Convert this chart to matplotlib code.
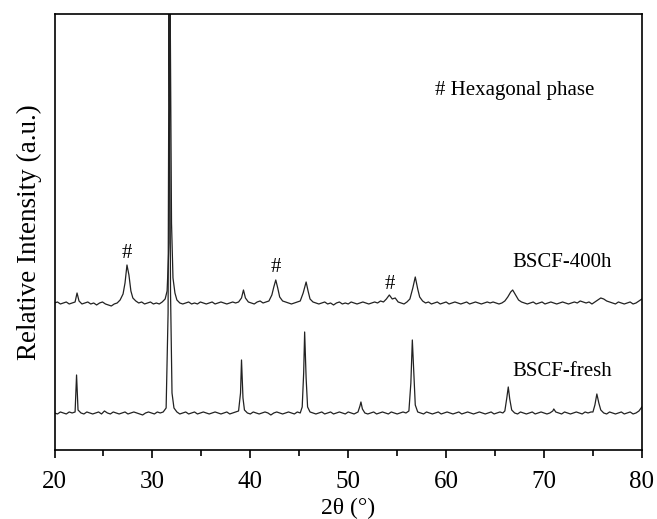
import matplotlib
matplotlib.use('Agg')
import matplotlib.pyplot as plt
from matplotlib.ticker import MultipleLocator

plt.rcParams['font.family'] = ['Liberation Serif', 'DejaVu Serif']

# BSCF-400h pattern, 2theta (deg) and intensity above its own baseline (a.u.)
aged_x = [20.0, 20.3, 20.6, 20.9, 21.2, 21.5, 21.8, 22.1, 22.3, 22.5, 22.8, 23.1, 23.4, 23.7,
          24.0, 24.3, 24.6, 24.9, 25.2, 25.5, 25.8, 26.1, 26.4, 26.7, 27.0, 27.2, 27.4, 27.6,
          27.8, 28.0, 28.3, 28.6, 28.9, 29.2, 29.5, 29.8, 30.1, 30.4, 30.7, 31.0, 31.3, 31.5,
          31.7, 31.8, 31.95, 32.1, 32.3, 32.5, 32.8, 33.1, 33.4, 33.7, 34.0, 34.3, 34.6, 34.9,
          35.2, 35.5, 35.8, 36.1, 36.4, 36.7, 37.0, 37.3, 37.6, 37.9, 38.2, 38.5, 38.8, 39.1,
          39.3, 39.5, 39.8, 40.1, 40.4, 40.7, 41.0, 41.3, 41.6, 41.9, 42.2, 42.4, 42.6, 42.8,
          43.0, 43.3, 43.6, 43.9, 44.2, 44.5, 44.8, 45.1, 45.4, 45.7, 45.9, 46.1, 46.4, 46.7,
          47.0, 47.3, 47.6, 47.9, 48.2, 48.5, 48.8, 49.1, 49.4, 49.7, 50.0, 50.3, 50.6, 50.9,
          51.2, 51.5, 51.8, 52.1, 52.4, 52.7, 53.0, 53.3, 53.6, 53.9, 54.2, 54.5, 54.8, 55.1,
          55.4, 55.7, 56.0, 56.3, 56.6, 56.85, 57.1, 57.3, 57.6, 57.9, 58.2, 58.5, 58.8, 59.1,
          59.4, 59.7, 60.0, 60.3, 60.6, 60.9, 61.2, 61.5, 61.8, 62.1, 62.4, 62.7, 63.0, 63.3,
          63.6, 63.9, 64.2, 64.5, 64.8, 65.1, 65.4, 65.7, 66.0, 66.3, 66.6, 66.8, 67.1, 67.4,
          67.7, 68.0, 68.3, 68.6, 68.9, 69.2, 69.5, 69.8, 70.1, 70.4, 70.7, 71.0, 71.3, 71.6,
          71.9, 72.2, 72.5, 72.8, 73.1, 73.4, 73.7, 74.0, 74.3, 74.6, 74.9, 75.2, 75.5, 75.8,
          76.1, 76.4, 76.7, 77.0, 77.3, 77.6, 77.9, 78.2, 78.5, 78.8, 79.1, 79.4, 79.7, 80.0]
aged_y = [0, 1, -1, 0, 1, -1, 0, 1, 10, 2, -1, 0, 1, -1,
          0, -2, 0, 1, -1, -2, -3, -1, 0, 3, 9, 20, 38, 28,
          12, 5, 2, 0, 1, -1, 0, 1, -1, 0, -1, 1, 4, 12,
          60, 320, 80, 25, 10, 3, 0, -1, 0, 1, -1, 0, -1, 1,
          0, -1, 0, 1, -1, 0, 1, 0, -1, 0, 1, 0, 1, 5,
          13, 5, 1, 0, -1, 1, 2, 0, 1, 2, 8, 16, 23, 15,
          6, 2, 1, 0, -1, 0, 1, 2, 10, 21, 12, 4, 1, 0,
          -1, 0, 1, -1, 0, -2, 0, 1, -1, 0, -1, 1, 0, -1,
          0, 1, 0, -1, 0, 1, 0, 2, 1, 4, 8, 4, 5, 1,
          0, -1, 1, 4, 15, 26, 14, 6, 2, 0, 1, -1, 0, 1,
          -1, 0, 1, -1, 0, 1, 0, -1, 0, 1, -1, 0, 1, 0,
          -1, 0, 1, 0, 1, 0, -1, 0, 2, 6, 11, 13, 8, 3,
          1, 0, -1, 0, 1, -1, 0, 1, -1, 0, 1, 0, -1, 0,
          1, 0, -1, 0, 1, 0, 2, 1, 0, 1, -1, 1, 3, 5,
          4, 2, 1, 0, -1, 1, 0, -1, 0, 1, -1, 0, 2, 4]

# BSCF-fresh pattern
fresh_x = [20.0, 20.3, 20.6, 20.9, 21.2, 21.5, 21.8, 22.1, 22.25, 22.4, 22.7, 23.0, 23.3, 23.6,
           23.9, 24.2, 24.5, 24.8, 25.1, 25.4, 25.7, 26.0, 26.3, 26.6, 26.9, 27.2, 27.5, 27.8,
           28.1, 28.4, 28.7, 29.0, 29.3, 29.6, 29.9, 30.2, 30.5, 30.8, 31.1, 31.4, 31.6, 31.7,
           31.85, 32.0, 32.2, 32.5, 32.8, 33.1, 33.4, 33.7, 34.0, 34.3, 34.6, 34.9, 35.2, 35.5,
           35.8, 36.1, 36.4, 36.7, 37.0, 37.3, 37.6, 37.9, 38.2, 38.5, 38.8, 39.0, 39.1, 39.25,
           39.4, 39.7, 40.0, 40.3, 40.6, 40.9, 41.2, 41.5, 41.8, 42.1, 42.4, 42.7, 43.0, 43.3,
           43.6, 43.9, 44.2, 44.5, 44.8, 45.1, 45.3, 45.45, 45.55, 45.7, 45.85, 46.1, 46.4, 46.7,
           47.0, 47.3, 47.6, 47.9, 48.2, 48.5, 48.8, 49.1, 49.4, 49.7, 50.0, 50.3, 50.6, 51.0,
           51.2, 51.3, 51.45, 51.7, 52.0, 52.3, 52.6, 52.9, 53.2, 53.5, 53.8, 54.1, 54.4, 54.7,
           55.0, 55.3, 55.6, 55.9, 56.2, 56.4, 56.55, 56.7, 56.85, 57.1, 57.4, 57.7, 58.0, 58.3,
           58.6, 58.9, 59.2, 59.5, 59.8, 60.1, 60.4, 60.7, 61.0, 61.3, 61.6, 61.9, 62.2, 62.5,
           62.8, 63.1, 63.4, 63.7, 64.0, 64.3, 64.6, 64.9, 65.2, 65.5, 65.8, 66.0, 66.2, 66.35,
           66.5, 66.7, 67.0, 67.3, 67.6, 67.9, 68.2, 68.5, 68.8, 69.1, 69.4, 69.7, 70.0, 70.3,
           70.6, 70.9, 71.0, 71.2, 71.5, 71.8, 72.1, 72.4, 72.7, 73.0, 73.3, 73.6, 73.9, 74.2,
           74.5, 74.8, 75.0, 75.2, 75.4, 75.6, 75.8, 76.1, 76.4, 76.7, 77.0, 77.3, 77.6, 77.9,
           78.2, 78.5, 78.8, 79.1, 79.4, 79.7, 80.0]
fresh_y = [0, -1, 1, 0, -1, 1, 0, 1, 38, 3, 0, -1, 1, 0,
           -1, 0, 1, -1, 2, 0, -1, 1, 0, -1, 0, 1, -1, 0,
           1, 0, -1, -2, 0, 1, 0, -1, 1, 0, 1, 5, 100, 420,
           120, 20, 5, 1, -1, 0, 1, -1, 0, 1, -1, 0, 1, 0,
           -1, 0, 1, 0, -1, 0, 1, -1, 0, 1, 2, 20, 53, 15,
           3, 0, -1, 1, 0, -1, 0, 1, 0, -2, 0, 1, 0, -1,
           0, 1, 0, -1, 1, 0, 6, 40, 81, 35, 6, 1, 0, -1,
           0, 1, -1, 0, 1, -1, 0, 1, 0, -1, 1, 0, -1, 1,
           7, 11, 4, 0, -1, 0, 1, -1, 0, 1, 0, -1, 1, 0,
           -1, 0, 1, 0, 2, 30, 73, 40, 8, 1, 0, -1, 1, 0,
           -1, 0, 1, -1, 0, 1, 0, -1, 0, 1, -1, 0, 1, 0,
           -1, 0, 1, 0, -1, 0, 1, -1, 0, 1, 0, 2, 15, 26,
           14, 3, 0, -1, 1, 0, -1, 0, 1, -1, 0, 1, 0, -1,
           0, 2, 4, 1, 0, -1, 1, 0, -1, 0, 1, 0, -1, 1,
           0, 1, 1, 8, 19, 10, 3, 0, -1, 1, 0, -1, 0, 1,
           -1, 0, 1, -1, 0, 2, 6]

hex_peaks = [27.4, 42.6, 54.2]
hex_label_y = [196, 182, 165]

fig = plt.figure(figsize=(6.57, 5.19), dpi=100)
ax = fig.add_axes([0.083, 0.133, 0.894, 0.840])

ax.plot(fresh_x, [v + 37 for v in fresh_y], color='#222222', lw=0.9)
ax.plot(aged_x, [v + 147 for v in aged_y], color='#222222', lw=0.9)

for x, y in zip(hex_peaks, hex_label_y):
    ax.text(x, y, '#', fontsize=15, ha='center', va='center')

ax.text(58.9, 360, '# Hexagonal phase', fontsize=15, ha='left', va='center')
ax.text(66.8, 187, 'BSCF-400h', fontsize=15, ha='left', va='center')
ax.text(66.8, 78, 'BSCF-fresh', fontsize=15, ha='left', va='center')

ax.set_xlim(20, 80)
ax.set_ylim(0, 436)
ax.xaxis.set_major_locator(MultipleLocator(10))
ax.xaxis.set_minor_locator(MultipleLocator(5))
ax.tick_params(axis='x', which='major', direction='out', length=6, width=1.2, labelsize=18, pad=9)
ax.tick_params(axis='x', which='minor', direction='out', length=4, width=1.2)
ax.tick_params(axis='y', left=False, labelleft=False)
for s in ax.spines.values():
    s.set_linewidth(1.2)

ax.set_xlabel('2θ (°)', fontsize=17, labelpad=4)
ax.set_ylabel('Relative Intensity (a.u.)', fontsize=19.5, labelpad=9)

fig.savefig('out.png', dpi=100)
